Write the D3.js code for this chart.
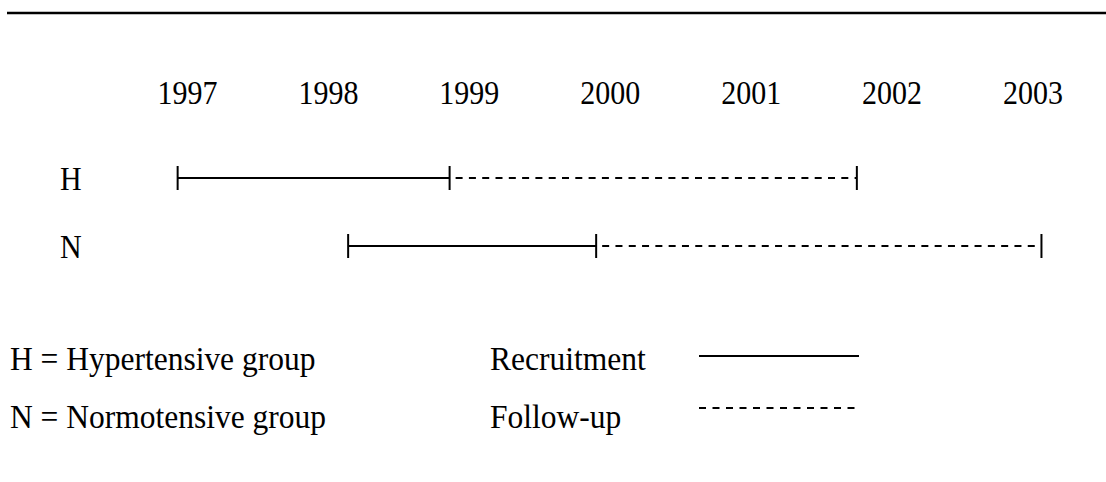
<!DOCTYPE html>
<html>
<head>
<meta charset="utf-8">
<script src="https://cdn.jsdelivr.net/npm/d3@7"></script>
<style>
  body { margin: 0; background: #fff; }
  text { font-family: "Liberation Serif", "Times New Roman", serif; fill: #000; }
</style>
</head>
<body>
<div id="chart"></div>
<script>
// study timeline data
const YEARS = [1997, 1998, 1999, 2000, 2001, 2002, 2003];
const GROUPS = ["H", "N"];
const RECRUIT_START = [1996.93, 1998.14];
const RECRUIT_END = [1998.86, 1999.90];
const FOLLOW_END = [2001.75, 2003.06];
const GROUP_LEGEND = ["H = Hypertensive group", "N = Normotensive group"];
const PHASE_LEGEND = ["Recruitment", "Follow-up"];

const FRAME_WIDTH = 1106;
const FRAME_HEIGHT = 482;

const FRAME = d3.select("#chart")
                .append("svg")
                  .attr("width", FRAME_WIDTH)
                  .attr("height", FRAME_HEIGHT);

// scales
const X_SCALE = d3.scaleLinear()
                  .domain([1997, 2003])
                  .range([187.5, 1033]);
const Y_SCALE = d3.scalePoint()
                  .domain(GROUPS)
                  .range([178, 246]);

const rows = GROUPS.map((g, i) => ({
  group: g,
  start: RECRUIT_START[i],
  mid: RECRUIT_END[i],
  end: FOLLOW_END[i]
}));

// text is a bit taller than plain serif in the original, so stretch it
function place(x, y, sy) {
  return "translate(" + x + "," + y + ") scale(1," + sy + ")";
}

// top rule
FRAME.append("line")
  .attr("x1", 7).attr("x2", FRAME_WIDTH)
  .attr("y1", 13).attr("y2", 13)
  .attr("stroke", "#000")
  .attr("stroke-width", 2.5);

// year labels
FRAME.selectAll(".year")
  .data(YEARS)
  .enter()
  .append("text")
    .attr("class", "year")
    .attr("transform", (d) => place(X_SCALE(d), 104, 1.1))
    .attr("text-anchor", "middle")
    .attr("font-size", "30px")
    .text((d) => d);

// group labels
FRAME.selectAll(".glabel")
  .data(rows)
  .enter()
  .append("text")
    .attr("class", "glabel")
    .attr("transform", (d) => place(60, Y_SCALE(d.group) + 12, 1.1))
    .attr("font-size", "30px")
    .text((d) => d.group);

// recruitment (solid)
FRAME.selectAll(".recruit")
  .data(rows)
  .enter()
  .append("line")
    .attr("x1", (d) => X_SCALE(d.start))
    .attr("x2", (d) => X_SCALE(d.mid))
    .attr("y1", (d) => Y_SCALE(d.group))
    .attr("y2", (d) => Y_SCALE(d.group))
    .attr("stroke", "#000")
    .attr("stroke-width", 2);

// follow-up (dashed)
FRAME.selectAll(".follow")
  .data(rows)
  .enter()
  .append("line")
    .attr("x1", (d) => X_SCALE(d.mid))
    .attr("x2", (d) => X_SCALE(d.end))
    .attr("y1", (d) => Y_SCALE(d.group))
    .attr("y2", (d) => Y_SCALE(d.group))
    .attr("stroke", "#000")
    .attr("stroke-width", 2)
    .attr("stroke-dasharray", "7,6.3")
    .attr("stroke-dashoffset", -6);

// end ticks
rows.forEach((r) => {
  [r.start, r.mid, r.end].forEach((v) => {
    FRAME.append("line")
      .attr("x1", X_SCALE(v)).attr("x2", X_SCALE(v))
      .attr("y1", Y_SCALE(r.group) - 12)
      .attr("y2", Y_SCALE(r.group) + 12)
      .attr("stroke", "#000")
      .attr("stroke-width", 2);
  });
});

// legend
const LEG_Y = [370, 428];
FRAME.selectAll(".leg1")
  .data(GROUP_LEGEND)
  .enter()
  .append("text")
    .attr("transform", (d, i) => place(10, LEG_Y[i], 1.05))
    .attr("font-size", "31.5px")
    .text((d) => d);

FRAME.selectAll(".leg2")
  .data(PHASE_LEGEND)
  .enter()
  .append("text")
    .attr("transform", (d, i) => place(490, LEG_Y[i], 1.05))
    .attr("font-size", "31.5px")
    .text((d) => d);

FRAME.selectAll(".legline")
  .data(PHASE_LEGEND)
  .enter()
  .append("line")
    .attr("x1", 699).attr("x2", 859)
    .attr("y1", (d, i) => i === 0 ? 356 : 408)
    .attr("y2", (d, i) => i === 0 ? 356 : 408)
    .attr("stroke", "#000")
    .attr("stroke-width", 2)
    .attr("stroke-dasharray", (d, i) => i === 0 ? null : "7,6.5");
</script>
</body>
</html>
